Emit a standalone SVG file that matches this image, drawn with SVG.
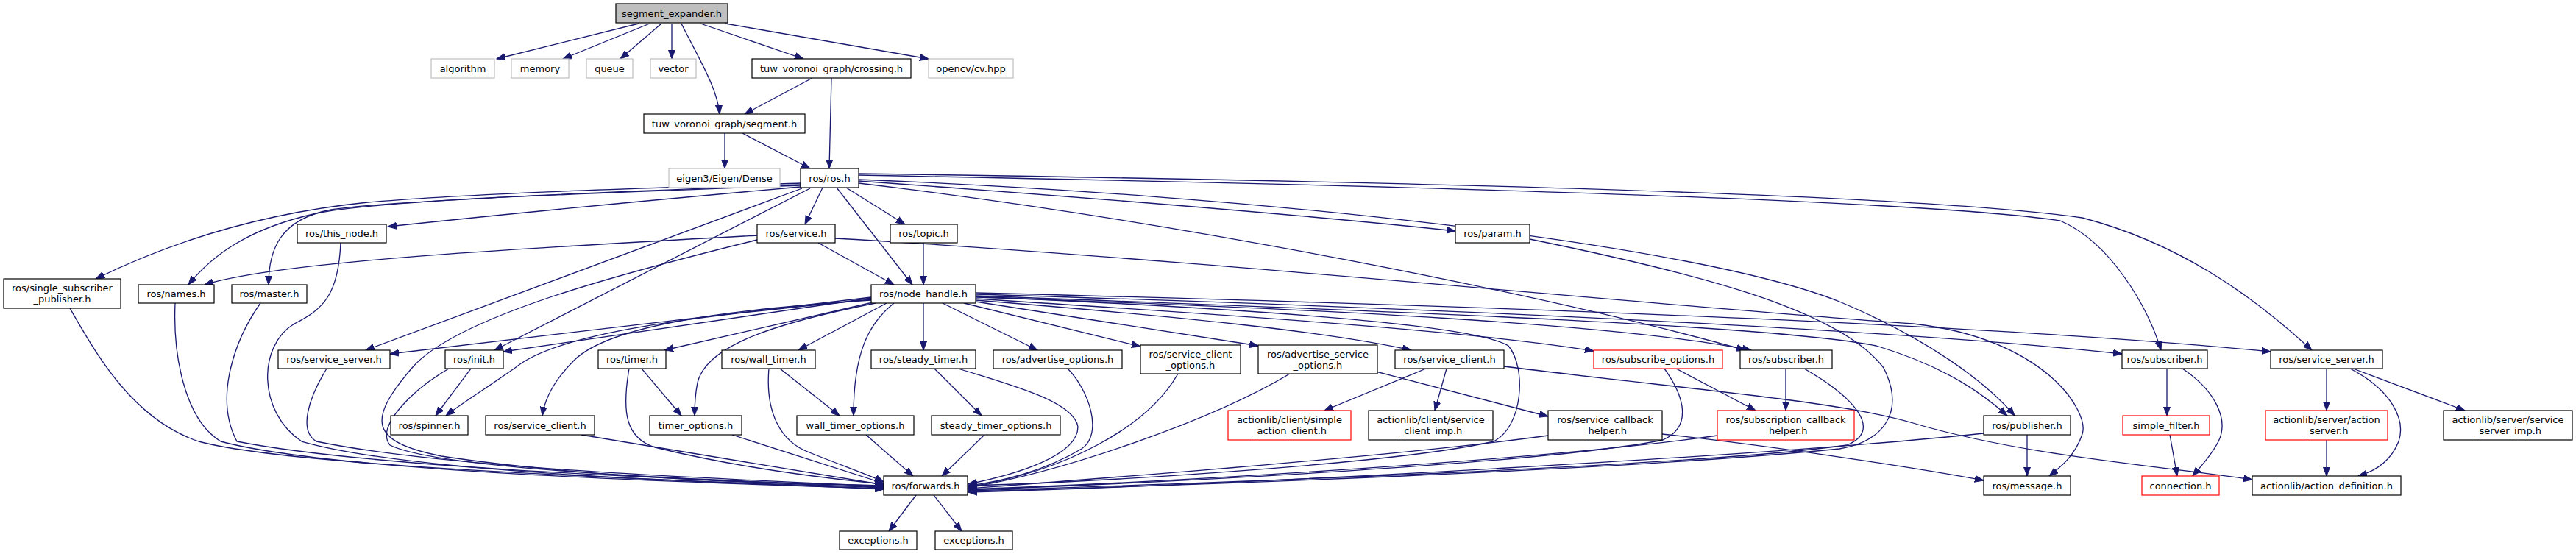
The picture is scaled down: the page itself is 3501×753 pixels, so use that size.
<svg xmlns="http://www.w3.org/2000/svg" width="3501" height="753" viewBox="0 0 3501 753">
<style>
  rect.n { fill: #ffffff; stroke: #000000; stroke-width: 1.2; }
  rect.x { fill: #ffffff; stroke: #bfbfbf; stroke-width: 1.2; }
  rect.r { fill: #ffffff; stroke: #ff0000; stroke-width: 1.2; }
  rect.root { fill: #bfbfbf; stroke: #000000; stroke-width: 1.2; }
  text { font-family: "DejaVu Sans", "Liberation Sans", sans-serif; font-size: 13px; fill: #000000; text-anchor: middle; }
  #edges path { fill: none; stroke: #191970; stroke-width: 1.3; marker-end: url(#a); }
</style>
<defs>
  <marker id="a" markerWidth="13" markerHeight="10" refX="12" refY="5" orient="auto" markerUnits="userSpaceOnUse">
    <path d="M0,0.5 L12,5 L0,9.5 z" fill="#191970" stroke="#191970" stroke-width="1"/>
  </marker>
</defs>
<rect x="0" y="0" width="3501" height="753" fill="#ffffff"/>
<g id="edges">
  <path d="M868,32 L675,80"/>
  <path d="M883,32 L765,80"/>
  <path d="M899,32 L843,80"/>
  <path d="M913,32 L913,80"/>
  <path d="M926,32 C950,80 975,120 978,155"/>
  <path d="M952,32 L1092,80"/>
  <path d="M986,32 L1262,80"/>
  <path d="M1104,106 L1012,155"/>
  <path d="M1130,106 L1127,229"/>
  <path d="M985,181 L985,229"/>
  <path d="M1009,181 L1101,229"/>
  <path d="M1088,249 C900,255 650,262 500,275 C350,290 230,330 130,379"/>
  <path d="M1088,251 C800,262 520,272 430,290 C340,310 290,345 256,387"/>
  <path d="M1088,252 C800,263 540,272 450,285 C380,298 365,340 365,387"/>
  <path d="M1088,254 C850,275 650,295 527,308"/>
  <path d="M1090,256 L497,476"/>
  <path d="M1101,256 L672,476"/>
  <path d="M1118,255 L1094,305"/>
  <path d="M1137,255 L1240,387"/>
  <path d="M1150,255 L1230,305"/>
  <path d="M1167,246 C1500,270 1800,295 1978,314"/>
  <path d="M1167,249 C1600,300 2100,400 2372,476"/>
  <path d="M1167,244 C1700,265 2300,330 2500,410 C2620,460 2700,520 2738,565"/>
  <path d="M1167,238 C1800,250 2600,270 2800,300 C2870,330 2920,420 2937,476"/>
  <path d="M1167,236 C1800,245 2600,262 2830,296 C2960,330 3060,400 3142,476"/>
  <path d="M1112,330 L1215,387"/>
  <path d="M1029,320 C700,338 380,355 278,387"/>
  <path d="M1029,326 C850,370 620,430 560,500 C500,570 500,600 600,620 C800,650 1050,658 1201,660"/>
  <path d="M1135,324 C1600,350 2300,420 2600,440 C2780,460 2840,560 2830,590 C2820,620 2800,635 2785,647"/>
  <path d="M1255,330 L1255,387"/>
  <path d="M1184,404 L530,481"/>
  <path d="M1184,405 L684,478"/>
  <path d="M1184,407 C950,430 760,450 700,500 C650,535 625,550 606,565"/>
  <path d="M1184,408 C1000,420 830,440 780,490 C750,520 740,545 737,565"/>
  <path d="M1186,411 L903,476"/>
  <path d="M1190,412 C1050,440 960,470 948,520 C944,540 944,555 944,565"/>
  <path d="M1205,412 L1085,476"/>
  <path d="M1215,412 C1180,440 1160,480 1160,565"/>
  <path d="M1255,412 L1255,476"/>
  <path d="M1281,412 L1410,476"/>
  <path d="M1310,412 L1550,471"/>
  <path d="M1326,410 L1710,470"/>
  <path d="M1326,408 C1600,430 1800,450 1918,476"/>
  <path d="M1326,406 C1700,430 2000,450 2166,477"/>
  <path d="M1326,404 C1800,420 2200,440 2380,476"/>
  <path d="M1326,402 C1800,420 2400,440 2550,470 C2650,500 2700,540 2728,565"/>
  <path d="M1326,400 C2000,420 2600,450 2884,481"/>
  <path d="M1326,398 C2000,415 2700,440 3086,478"/>
  <path d="M1326,403 C1700,420 2000,440 2050,470 C2075,500 2070,580 2030,600 C1900,630 1500,655 1316,660"/>
  <path d="M95,419 C130,480 180,570 270,600 C400,635 900,652 1201,665"/>
  <path d="M238,412 C235,480 250,570 300,600 C450,640 900,655 1201,664"/>
  <path d="M354,412 C320,460 290,540 322,600 C500,635 900,650 1201,663"/>
  <path d="M463,330 C460,400 440,420 400,440 C350,470 350,560 410,600 C550,640 900,655 1201,662"/>
  <path d="M444,501 C420,540 405,585 430,600 C600,635 950,650 1201,661"/>
  <path d="M610,501 C560,530 510,580 530,605 C600,640 1000,655 1201,660"/>
  <path d="M640,501 L592,565"/>
  <path d="M872,501 L926,565"/>
  <path d="M1060,501 L1141,565"/>
  <path d="M790,591 L1201,659"/>
  <path d="M855,501 C845,560 850,595 890,608 C1000,635 1120,650 1201,658"/>
  <path d="M995,591 L1201,657"/>
  <path d="M1045,501 C1040,560 1060,600 1100,615 C1150,635 1180,645 1201,655"/>
  <path d="M1177,591 L1241,647"/>
  <path d="M1302,501 C1400,530 1460,550 1465,580 C1465,620 1380,645 1316,658"/>
  <path d="M1270,501 L1334,565"/>
  <path d="M1338,591 L1280,647"/>
  <path d="M1451,501 C1480,530 1500,590 1470,610 C1420,640 1360,655 1316,660"/>
  <path d="M1601,508 C1560,580 1450,640 1316,662"/>
  <path d="M1753,508 C1650,570 1450,640 1316,663"/>
  <path d="M1245,673 L1208,722"/>
  <path d="M1269,673 L1307,722"/>
  <path d="M2104,592 C1900,620 1500,650 1316,664"/>
  <path d="M2334,592 C2100,625 1600,655 1316,665"/>
  <path d="M2262,501 C2290,540 2300,580 2260,598 C2100,630 1600,655 1316,666"/>
  <path d="M2452,501 C2520,540 2560,585 2510,605 C2300,635 1600,658 1316,667"/>
  <path d="M2079,325 C2300,370 2500,420 2560,500 C2590,560 2560,600 2500,610 C2200,640 1600,660 1316,668"/>
  <path d="M2696,589 C2400,620 1700,658 1316,669"/>
  <path d="M1938,501 L1800,558"/>
  <path d="M1966,501 L1950,558"/>
  <path d="M2044,498 C2300,530 2500,545 2600,575 C2750,620 2950,635 3061,652"/>
  <path d="M1870,505 L2104,566"/>
  <path d="M2259,590 C2400,605 2600,635 2696,653"/>
  <path d="M2278,501 L2386,558"/>
  <path d="M2427,501 L2427,558"/>
  <path d="M2755,591 L2755,647"/>
  <path d="M2945,501 L2945,565"/>
  <path d="M2966,501 C3010,530 3030,570 3015,600 C3005,620 2990,635 2980,647"/>
  <path d="M2949,591 L2959,647"/>
  <path d="M3162,501 L3162,558"/>
  <path d="M3194,501 C3250,530 3270,570 3260,600 C3250,625 3230,640 3205,647"/>
  <path d="M3198,501 L3350,558"/>
  <path d="M3162,598 L3162,647"/>
</g>
<g id="n_segment_expander"><rect class="root" x="837" y="5" width="152" height="26"/><text x="913" y="22.5">segment_expander.h</text></g>
<g id="n_algorithm"><rect class="x" x="586" y="80" width="86" height="26"/><text x="629" y="97.5">algorithm</text></g>
<g id="n_memory"><rect class="x" x="695" y="80" width="78" height="26"/><text x="734" y="97.5">memory</text></g>
<g id="n_queue"><rect class="x" x="797" y="80" width="63" height="26"/><text x="828.5" y="97.5">queue</text></g>
<g id="n_vector"><rect class="x" x="884" y="80" width="62" height="26"/><text x="915" y="97.5">vector</text></g>
<g id="n_crossing"><rect class="n" x="1022" y="80" width="216" height="26"/><text x="1130" y="97.5">tuw_voronoi_graph/crossing.h</text></g>
<g id="n_opencv"><rect class="x" x="1262" y="80" width="115" height="26"/><text x="1319.5" y="97.5">opencv/cv.hpp</text></g>
<g id="n_segment"><rect class="n" x="875" y="155" width="219" height="26"/><text x="984.5" y="172.5">tuw_voronoi_graph/segment.h</text></g>
<g id="n_eigen"><rect class="x" x="909" y="229" width="151" height="26"/><text x="984.5" y="246.5">eigen3/Eigen/Dense</text></g>
<g id="n_ros"><rect class="n" x="1088" y="229" width="79" height="26"/><text x="1127.5" y="246.5">ros/ros.h</text></g>
<g id="n_this_node"><rect class="n" x="404" y="305" width="121" height="25"/><text x="464.5" y="322">ros/this_node.h</text></g>
<g id="n_service"><rect class="n" x="1029" y="305" width="106" height="25"/><text x="1082" y="322">ros/service.h</text></g>
<g id="n_topic"><rect class="n" x="1210" y="305" width="91" height="25"/><text x="1255.5" y="322">ros/topic.h</text></g>
<g id="n_param"><rect class="n" x="1978" y="305" width="101" height="25"/><text x="2028.5" y="322">ros/param.h</text></g>
<g id="n_single_sub"><rect class="n" x="5" y="379" width="159" height="40"/><text x="84.5" y="396">ros/single_subscriber</text><text x="84.5" y="411">_publisher.h</text></g>
<g id="n_names"><rect class="n" x="188" y="387" width="103" height="25"/><text x="239.5" y="404">ros/names.h</text></g>
<g id="n_master"><rect class="n" x="315" y="387" width="102" height="25"/><text x="366" y="404">ros/master.h</text></g>
<g id="n_node_handle"><rect class="n" x="1184" y="387" width="142" height="25"/><text x="1255" y="404">ros/node_handle.h</text></g>
<g id="n_service_server_l"><rect class="n" x="378" y="476" width="152" height="25"/><text x="454" y="493">ros/service_server.h</text></g>
<g id="n_init"><rect class="n" x="605" y="476" width="79" height="25"/><text x="644.5" y="493">ros/init.h</text></g>
<g id="n_timer"><rect class="n" x="813" y="476" width="92" height="25"/><text x="859" y="493">ros/timer.h</text></g>
<g id="n_wall_timer"><rect class="n" x="981" y="476" width="127" height="25"/><text x="1044.5" y="493">ros/wall_timer.h</text></g>
<g id="n_steady_timer"><rect class="n" x="1184" y="476" width="142" height="25"/><text x="1255" y="493">ros/steady_timer.h</text></g>
<g id="n_advertise_options"><rect class="n" x="1350" y="476" width="175" height="25"/><text x="1437.5" y="493">ros/advertise_options.h</text></g>
<g id="n_service_client_options"><rect class="n" x="1550" y="469" width="136" height="39"/><text x="1618" y="486">ros/service_client</text><text x="1618" y="500.5">_options.h</text></g>
<g id="n_advertise_service_options"><rect class="n" x="1710" y="469" width="162" height="39"/><text x="1791" y="486">ros/advertise_service</text><text x="1791" y="500.5">_options.h</text></g>
<g id="n_service_client_r"><rect class="n" x="1896" y="476" width="148" height="25"/><text x="1970" y="493">ros/service_client.h</text></g>
<g id="n_subscribe_options"><rect class="r" x="2166" y="476" width="175" height="25"/><text x="2253.5" y="493">ros/subscribe_options.h</text></g>
<g id="n_subscriber_l"><rect class="n" x="2365" y="476" width="125" height="25"/><text x="2427.5" y="493">ros/subscriber.h</text></g>
<g id="n_subscriber_r"><rect class="n" x="2884" y="476" width="116" height="25"/><text x="2942" y="493">ros/subscriber.h</text></g>
<g id="n_service_server_r"><rect class="n" x="3086" y="476" width="152" height="25"/><text x="3162" y="493">ros/service_server.h</text></g>
<g id="n_spinner"><rect class="n" x="531" y="565" width="105" height="26"/><text x="583.5" y="582.5">ros/spinner.h</text></g>
<g id="n_service_client_l"><rect class="n" x="660" y="565" width="148" height="26"/><text x="734" y="582.5">ros/service_client.h</text></g>
<g id="n_timer_options"><rect class="n" x="883" y="565" width="125" height="26"/><text x="945.5" y="582.5">timer_options.h</text></g>
<g id="n_wall_timer_options"><rect class="n" x="1083" y="565" width="159" height="26"/><text x="1162.5" y="582.5">wall_timer_options.h</text></g>
<g id="n_steady_timer_options"><rect class="n" x="1266" y="565" width="175" height="26"/><text x="1353.5" y="582.5">steady_timer_options.h</text></g>
<g id="n_simple_action_client"><rect class="r" x="1669" y="558" width="167" height="40"/><text x="1752.5" y="575">actionlib/client/simple</text><text x="1752.5" y="590">_action_client.h</text></g>
<g id="n_service_client_imp"><rect class="n" x="1860" y="558" width="169" height="40"/><text x="1944.5" y="575">actionlib/client/service</text><text x="1944.5" y="590">_client_imp.h</text></g>
<g id="n_service_callback_helper"><rect class="n" x="2104" y="558" width="155" height="40"/><text x="2181.5" y="575">ros/service_callback</text><text x="2181.5" y="590">_helper.h</text></g>
<g id="n_subscription_callback_helper"><rect class="r" x="2334" y="558" width="186" height="40"/><text x="2427" y="575">ros/subscription_callback</text><text x="2427" y="590">_helper.h</text></g>
<g id="n_publisher"><rect class="n" x="2696" y="565" width="118" height="26"/><text x="2755" y="582.5">ros/publisher.h</text></g>
<g id="n_simple_filter"><rect class="r" x="2885" y="565" width="118" height="26"/><text x="2944" y="582.5">simple_filter.h</text></g>
<g id="n_action_server"><rect class="r" x="3079" y="558" width="166" height="40"/><text x="3162" y="575">actionlib/server/action</text><text x="3162" y="590">_server.h</text></g>
<g id="n_service_server_imp"><rect class="n" x="3321" y="558" width="175" height="40"/><text x="3408.5" y="575">actionlib/server/service</text><text x="3408.5" y="590">_server_imp.h</text></g>
<g id="n_forwards"><rect class="n" x="1201" y="647" width="114" height="26"/><text x="1258" y="664.5">ros/forwards.h</text></g>
<g id="n_message"><rect class="n" x="2696" y="647" width="118" height="26"/><text x="2755" y="664.5">ros/message.h</text></g>
<g id="n_connection"><rect class="r" x="2911" y="647" width="105" height="26"/><text x="2963.5" y="664.5">connection.h</text></g>
<g id="n_action_definition"><rect class="n" x="3061" y="647" width="202" height="26"/><text x="3162" y="664.5">actionlib/action_definition.h</text></g>
<g id="n_exceptions_l"><rect class="n" x="1141" y="722" width="105" height="25"/><text x="1193.5" y="739">exceptions.h</text></g>
<g id="n_exceptions_r"><rect class="n" x="1271" y="722" width="105" height="25"/><text x="1323.5" y="739">exceptions.h</text></g>
</svg>
